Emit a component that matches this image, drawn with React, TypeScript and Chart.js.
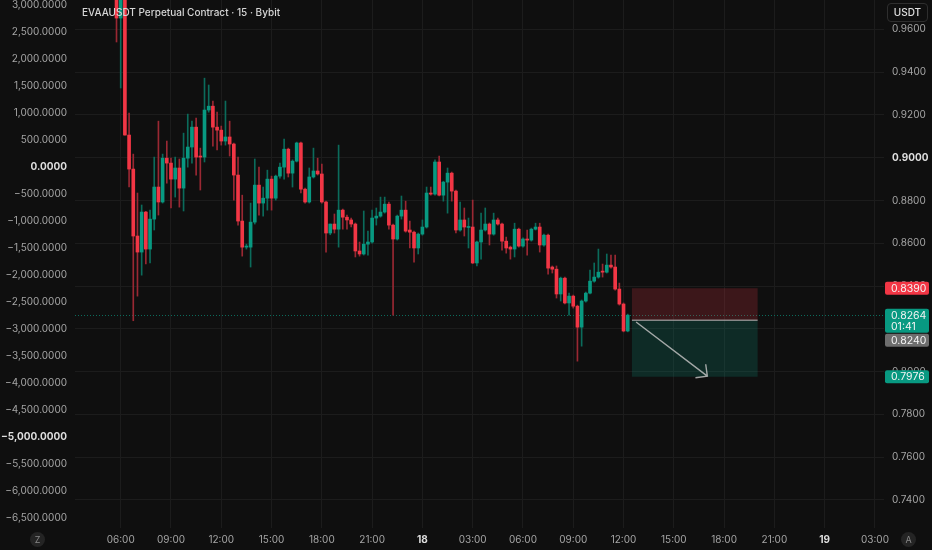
import React, { useEffect, useRef } from "react";
import { Chart, registerables } from "chart.js";

Chart.register(...registerables);

// ---- time axis (hours counted from 17th 00:00), one candle = 15 minutes ----
const FIRST_BAR_HOUR = 5.75;
const BAR_HOURS = 0.25;
const timeTicks = [6, 9, 12, 15, 18, 21, 24, 27, 30, 33, 36, 39, 42, 45, 48, 51];
const dayTickLabels: Record<number, string> = { 24: "18", 48: "19" };

// ---- candles (EVAAUSDT, 15m) ----
const opens = [
  1.0, 0.9653, 1.0, 0.9106, 0.8947, 0.8634, 0.8559, 0.8746, 0.8573, 0.8713,
  0.8863, 0.8793, 0.8998, 0.8975, 0.89, 0.8952, 0.8858, 0.8998, 0.905, 0.9143,
  0.9008, 0.9003, 0.9223, 0.9241, 0.9143, 0.9129, 0.9078, 0.9097, 0.9064, 0.8919,
  0.8704, 0.8582, 0.8582, 0.8699, 0.8872, 0.8788, 0.8811, 0.89, 0.8811, 0.8914,
  0.8956, 0.904, 0.8928, 0.8984, 0.9069, 0.8853, 0.8793, 0.891, 0.8938, 0.8924,
  0.8793, 0.8648, 0.869, 0.8666, 0.8755, 0.8722, 0.8709, 0.869, 0.8564, 0.855,
  0.8596, 0.8606, 0.8718, 0.8727, 0.8746, 0.8783, 0.8685, 0.862, 0.8727, 0.8755,
  0.8662, 0.8652, 0.8578, 0.8643, 0.8676, 0.8835, 0.883, 0.898, 0.8825, 0.8886,
  0.8928, 0.8844, 0.8662, 0.8709, 0.8674, 0.8676, 0.8508, 0.8606, 0.8662, 0.869,
  0.8643, 0.8709, 0.869, 0.861, 0.8582, 0.8573, 0.8666, 0.8587, 0.862, 0.8615,
  0.8666, 0.8676, 0.8592, 0.8638, 0.8489, 0.8479, 0.8363, 0.8437, 0.8321, 0.8353,
  0.8306, 0.8208, 0.833, 0.8367, 0.8423, 0.8442, 0.847, 0.8465, 0.8498, 0.8489,
  0.8386, 0.8316, 0.819,
];
const highs = [
  1.01, 1.02, 1.01, 0.9209, 0.9017, 0.8835, 0.8779, 0.875, 0.8755, 0.9003,
  0.9171, 0.9017, 0.9078, 0.8998, 0.9003, 0.8994, 0.9115, 0.9204, 0.9171, 0.9185,
  0.9045, 0.9372, 0.934, 0.9265, 0.9213, 0.9148, 0.9265, 0.9171, 0.9069, 0.9003,
  0.8825, 0.8596, 0.8788, 0.8994, 0.8956, 0.8863, 0.8942, 0.8914, 0.8919, 0.8975,
  0.9087, 0.9045, 0.899, 0.9073, 0.9073, 0.8858, 0.8952, 0.9045, 0.8998, 0.897,
  0.8797, 0.869, 0.8737, 0.9059, 0.876, 0.8732, 0.8718, 0.8695, 0.8606, 0.8751,
  0.8657, 0.8755, 0.8765, 0.8816, 0.8816, 0.8793, 0.869, 0.8732, 0.8821, 0.8797,
  0.8704, 0.8657, 0.8648, 0.8709, 0.8863, 0.8863, 0.899, 0.9008, 0.889, 0.8952,
  0.8933, 0.8849, 0.8793, 0.8765, 0.8718, 0.8802, 0.861, 0.8741, 0.8765, 0.8695,
  0.8741, 0.8718, 0.8695, 0.8629, 0.8587, 0.8694, 0.8671, 0.8625, 0.8662, 0.8671,
  0.8694, 0.8694, 0.8643, 0.8643, 0.8494, 0.8494, 0.8442, 0.8442, 0.8367, 0.8358,
  0.8311, 0.8335, 0.8372, 0.8475, 0.8508, 0.8573, 0.8503, 0.855, 0.8545, 0.8545,
  0.8414, 0.8321, 0.8269,
];
const lows = [
  0.9541, 0.9326, 0.9106, 0.8863, 0.8238, 0.8353, 0.8451, 0.8503, 0.8508, 0.8662,
  0.8732, 0.8788, 0.8881, 0.8765, 0.8816, 0.8769, 0.8751, 0.8956, 0.8975, 0.8919,
  0.8849, 0.898, 0.9213, 0.9054, 0.9036, 0.9059, 0.9059, 0.9008, 0.8802, 0.8685,
  0.854, 0.8573, 0.8489, 0.869, 0.8732, 0.8727, 0.8755, 0.8755, 0.8802, 0.8905,
  0.89, 0.891, 0.8863, 0.898, 0.8835, 0.8788, 0.8788, 0.8905, 0.8919, 0.8788,
  0.8559, 0.864, 0.8648, 0.8582, 0.8666, 0.8666, 0.8676, 0.8536, 0.854, 0.8545,
  0.8545, 0.8601, 0.8685, 0.8722, 0.8741, 0.8666, 0.8264, 0.8615, 0.8713, 0.8652,
  0.8578, 0.8512, 0.855, 0.8638, 0.8671, 0.8825, 0.8825, 0.8821, 0.8797, 0.8741,
  0.8797, 0.8648, 0.8657, 0.8634, 0.8578, 0.8505, 0.8494, 0.8526, 0.8657, 0.8592,
  0.8638, 0.8685, 0.8568, 0.8554, 0.8526, 0.8536, 0.8582, 0.8582, 0.8545, 0.861,
  0.8662, 0.8559, 0.8587, 0.8456, 0.8461, 0.8344, 0.833, 0.8316, 0.8264, 0.8297,
  0.8049, 0.8119, 0.8325, 0.8363, 0.8418, 0.8437, 0.8442, 0.8461, 0.8484, 0.8381,
  0.8311, 0.8186, 0.8186,
];
const closes = [
  0.9653, 1.0, 0.9106, 0.8947, 0.8634, 0.8559, 0.8746, 0.8573, 0.8713, 0.8863,
  0.8793, 0.8998, 0.8975, 0.89, 0.8952, 0.8858, 0.8998, 0.905, 0.9143, 0.9003,
  0.9003, 0.9223, 0.9241, 0.9143, 0.9129, 0.9078, 0.9097, 0.9064, 0.8919, 0.8704,
  0.8582, 0.8587, 0.8699, 0.8872, 0.8788, 0.8811, 0.89, 0.8811, 0.8914, 0.8956,
  0.904, 0.8928, 0.8984, 0.9069, 0.8853, 0.8793, 0.891, 0.8938, 0.8924, 0.8793,
  0.8648, 0.869, 0.8666, 0.8755, 0.8722, 0.8709, 0.869, 0.8564, 0.855, 0.8596,
  0.8606, 0.8718, 0.8727, 0.8746, 0.8783, 0.8685, 0.862, 0.8727, 0.8755, 0.8657,
  0.8652, 0.8578, 0.8643, 0.8676, 0.8835, 0.883, 0.898, 0.8825, 0.8886, 0.8928,
  0.8844, 0.8662, 0.8709, 0.8676, 0.8678, 0.8508, 0.8606, 0.8662, 0.869, 0.8643,
  0.8709, 0.869, 0.861, 0.8578, 0.8573, 0.8666, 0.8587, 0.862, 0.8615, 0.8666,
  0.8676, 0.8592, 0.8638, 0.8484, 0.8479, 0.8363, 0.8437, 0.8321, 0.8353, 0.8306,
  0.8208, 0.833, 0.8367, 0.8423, 0.8442, 0.8465, 0.8465, 0.8498, 0.8489, 0.8386,
  0.8316, 0.819, 0.8264,
];

// ---- price axis (right) and indicator axis (left) ----
const priceTicks = [0.74, 0.76, 0.78, 0.8, 0.82, 0.84, 0.86, 0.88, 0.9, 0.92, 0.94, 0.96];
const boldPriceTicks = [0.9];
const leftTicks = [
  3000, 2500, 2000, 1500, 1000, 500, 0, -500, -1000, -1500, -2000, -2500, -3000,
  -3500, -4000, -4500, -5000, -5500, -6000, -6500,
];
const boldLeftTicks = [0, -5000];

// ---- short position tool & price labels ----
const stopPrice = 0.839;
const entryPrice = 0.824;
const targetPrice = 0.7976;
const lastPrice = 0.8264;
const countdown = "01:41";
const positionStartHour = 36.5;
const positionEndHour = 44;
const arrowStart = { hour: 36.75, price: 0.8232 };
const arrowEnd = { hour: 41.0, price: 0.7979 };

// ---- view ranges ----
const X_MIN = 3.273;
const X_MAX = 51.54;
const PRICE_MIN = 0.7269;
const PRICE_MAX = 0.97374;
const LEFT_MIN = -6693;
const LEFT_MAX = 3093;

const BG = "#0f0f0f";
const GRID = "#1c1c1c";
const UP = "#089981";
const DOWN = "#f23645";
const UP_WICK = "#0b6b5b";
const DOWN_WICK = "#9a2833";
const TEXT = "#a5a5a5";
const TEXT_BOLD = "#dedede";
const FONT = "Inter";

function fmtLeft(v: number) {
  const s = Math.abs(v).toLocaleString("en-US", { minimumFractionDigits: 4, maximumFractionDigits: 4 });
  return v < 0 ? "\u2212" + s : s;
}
function fmtHour(v: number) {
  if (dayTickLabels[v]) return dayTickLabels[v];
  return String(v % 24).padStart(2, "0") + ":00";
}
const tickVal = (c: any) => (c && c.tick ? c.tick.value : NaN);

const overlayPlugin = {
  id: "tvOverlay",
  beforeDraw(chart: any) {
    const ctx = chart.ctx;
    ctx.save();
    ctx.fillStyle = BG;
    ctx.fillRect(0, 0, chart.width, chart.height);
    ctx.restore();
  },
  beforeDatasetsDraw(chart: any) {
    const { ctx, chartArea } = chart;
    const y = chart.scales.y.getPixelForValue(lastPrice);
    ctx.save();
    ctx.strokeStyle = "#0b6b5b";
    ctx.lineWidth = 1;
    ctx.setLineDash([1, 2]);
    ctx.beginPath();
    ctx.moveTo(chartArea.left, Math.round(y) + 0.5);
    ctx.lineTo(chartArea.right, Math.round(y) + 0.5);
    ctx.stroke();
    ctx.restore();
  },
  afterDatasetsDraw(chart: any) {
    const { ctx } = chart;
    const xs = chart.scales.x;
    const ys = chart.scales.y;
    const x0 = xs.getPixelForValue(positionStartHour);
    const x1 = xs.getPixelForValue(positionEndHour);
    const yStop = ys.getPixelForValue(stopPrice);
    const yEntry = ys.getPixelForValue(entryPrice);
    const yTarget = ys.getPixelForValue(targetPrice);
    ctx.save();
    ctx.fillStyle = "rgba(242,54,69,0.2)";
    ctx.fillRect(x0, yStop, x1 - x0, yEntry - yStop);
    ctx.fillStyle = "rgba(8,153,129,0.2)";
    ctx.fillRect(x0, yEntry, x1 - x0, yTarget - yEntry);
    ctx.strokeStyle = "rgba(170,170,170,0.75)";
    ctx.lineWidth = 1.5;
    ctx.beginPath();
    ctx.moveTo(x0, yEntry);
    ctx.lineTo(x1, yEntry);
    ctx.stroke();
    const ax0 = xs.getPixelForValue(arrowStart.hour);
    const ay0 = ys.getPixelForValue(arrowStart.price);
    const ax1 = xs.getPixelForValue(arrowEnd.hour);
    const ay1 = ys.getPixelForValue(arrowEnd.price);
    const ang = Math.atan2(ay1 - ay0, ax1 - ax0) + Math.PI;
    ctx.strokeStyle = "rgba(190,190,190,0.85)";
    ctx.lineWidth = 1.4;
    ctx.beginPath();
    ctx.moveTo(ax0, ay0);
    ctx.lineTo(ax1, ay1);
    ctx.moveTo(ax1 + 12 * Math.cos(ang - Math.PI / 4), ay1 + 12 * Math.sin(ang - Math.PI / 4));
    ctx.lineTo(ax1, ay1);
    ctx.lineTo(ax1 + 12 * Math.cos(ang + Math.PI / 4), ay1 + 12 * Math.sin(ang + Math.PI / 4));
    ctx.stroke();
    ctx.restore();
  },
  afterDraw(chart: any) {
    const { ctx } = chart;
    const ys = chart.scales.y;
    const bx = chart.chartArea.right + 1;
    const bw = 44;
    const box = (top: number, h: number, color: string, lines: string[]) => {
      ctx.fillStyle = color;
      ctx.beginPath();
      ctx.roundRect(bx, top, bw, h, 2);
      ctx.fill();
      ctx.fillStyle = "#f4f4f4";
      ctx.font = `10.5px ${FONT}`;
      ctx.textBaseline = "middle";
      ctx.textAlign = "left";
      lines.forEach((t, i) => ctx.fillText(t, bx + 6, top + 6.8 + i * 11));
    };
    ctx.save();
    const yStop = ys.getPixelForValue(stopPrice);
    box(yStop - 6.5, 13, DOWN, [stopPrice.toFixed(4)]);
    const yLast = ys.getPixelForValue(lastPrice);
    const lastTop = yLast - 6.5;
    box(lastTop, 24, UP, [lastPrice.toFixed(4), countdown]);
    box(lastTop + 25, 13, "#6e6e6e", [entryPrice.toFixed(4)]);
    const yT = ys.getPixelForValue(targetPrice);
    box(yT - 6.5, 13, UP, [targetPrice.toFixed(4)]);
    ctx.restore();
  },
};

export default function App() {
  const ref = useRef<HTMLCanvasElement>(null);
  useEffect(() => {
    document.body.style.margin = "0";
    document.body.style.background = BG;
    const canvas = ref.current!;
    const xs = opens.map((_, i) => FIRST_BAR_HOUR + i * BAR_HOURS);
    const up = opens.map((o, i) => closes[i] >= o);
    const chart = new Chart(canvas, {
      type: "bar",
      data: {
        datasets: [
          {
            label: "wicks",
            data: xs.map((x, i) => ({ x, y: [lows[i], highs[i]] })) as any,
            backgroundColor: up.map((u) => (u ? UP_WICK : DOWN_WICK)),
            borderWidth: 0,
            barThickness: 1,
            grouped: false,
            xAxisID: "x",
            yAxisID: "y",
            order: 2,
          },
          {
            label: "bodies",
            data: xs.map((x, i) => ({ x, y: [opens[i], closes[i]] })) as any,
            backgroundColor: up.map((u) => (u ? UP : DOWN)),
            borderWidth: 0,
            barThickness: 3,
            minBarLength: 1,
            grouped: false,
            xAxisID: "x",
            yAxisID: "y",
            order: 1,
          },
        ],
      },
      options: {
        animation: false,
        responsive: false,
        maintainAspectRatio: false,
        layout: { padding: 0, autoPadding: false } as any,
        plugins: { legend: { display: false }, tooltip: { enabled: false } },
        scales: {
          x: {
            type: "linear",
            min: X_MIN,
            max: X_MAX,
            offset: false,
            grid: { color: GRID, drawTicks: false, offset: false } as any,
            border: { display: false },
            ticks: {
              autoSkip: false,
              maxRotation: 0,
              padding: 6,
              color: (c: any) => (dayTickLabels[tickVal(c)] ? TEXT_BOLD : TEXT),
              font: (c: any) => ({ family: FONT, size: 10, weight: dayTickLabels[tickVal(c)] ? "bold" : "normal" }),
              callback: (v: any) => fmtHour(Number(v)),
            },
            afterBuildTicks: (s: any) => {
              s.ticks = timeTicks.map((v) => ({ value: v }));
            },
            afterFit: (s: any) => {
              s.height = 22;
              s.paddingLeft = 0;
              s.paddingRight = 0;
            },
          },
          yL: {
            type: "linear",
            position: "left",
            min: LEFT_MIN,
            max: LEFT_MAX,
            grid: { display: false, drawTicks: false },
            border: { display: false },
            ticks: {
              autoSkip: false,
              padding: 8,
              color: (c: any) => (boldLeftTicks.includes(tickVal(c)) ? TEXT_BOLD : TEXT),
              font: (c: any) => ({ family: FONT, size: 10, weight: boldLeftTicks.includes(tickVal(c)) ? "bold" : "normal" }),
              callback: (v: any) => fmtLeft(Number(v)),
            },
            afterBuildTicks: (s: any) => {
              s.ticks = leftTicks.map((v) => ({ value: v }));
            },
            afterFit: (s: any) => {
              s.width = 75;
              s.paddingTop = 0;
              s.paddingBottom = 0;
            },
          },
          y: {
            type: "linear",
            position: "right",
            min: PRICE_MIN,
            max: PRICE_MAX,
            grid: { color: GRID, drawTicks: false },
            border: { display: false },
            ticks: {
              autoSkip: false,
              padding: 8,
              color: (c: any) => (boldPriceTicks.includes(tickVal(c)) ? TEXT_BOLD : TEXT),
              font: (c: any) => ({ family: FONT, size: 10, weight: boldPriceTicks.includes(tickVal(c)) ? "bold" : "normal" }),
              callback: (v: any) => Number(v).toFixed(4),
            },
            afterBuildTicks: (s: any) => {
              s.ticks = priceTicks.map((v) => ({ value: v }));
            },
            afterFit: (s: any) => {
              s.width = 48;
              s.paddingTop = 0;
              s.paddingBottom = 0;
            },
          },
        } as any,
      },
      plugins: [overlayPlugin as any],
    });
    return () => chart.destroy();
  }, []);

  const circle = (left: number, letter: string) => (
    <div
      style={{
        position: "absolute",
        left,
        top: 532,
        width: 15,
        height: 15,
        borderRadius: "50%",
        background: "#242424",
        color: "#8a8a8a",
        font: `9px ${FONT}`,
        lineHeight: "15px",
        textAlign: "center",
      }}
    >
      {letter}
    </div>
  );

  return (
    <div style={{ position: "relative", width: 932, height: 550, background: BG, overflow: "hidden" }}>
      <canvas ref={ref} width={932} height={550} style={{ display: "block" }} />
      <div
        style={{
          position: "absolute",
          left: 82,
          top: 6,
          color: "#d6d6d6",
          font: `500 10px ${FONT}`,
          lineHeight: "13px",
          whiteSpace: "nowrap",
        }}
      >
        EVAAUSDT Perpetual Contract · 15 · Bybit
      </div>
      <div
        style={{
          position: "absolute",
          left: 887,
          top: 3,
          width: 41,
          height: 19,
          boxSizing: "border-box",
          border: "1px solid #2e2e2e",
          borderRadius: 4,
          color: "#e0e0e0",
          font: `500 10px ${FONT}`,
          lineHeight: "17px",
          textAlign: "center",
        }}
      >
        USDT
      </div>
      {circle(30, "Z")}
      {circle(901, "A")}
    </div>
  );
}
